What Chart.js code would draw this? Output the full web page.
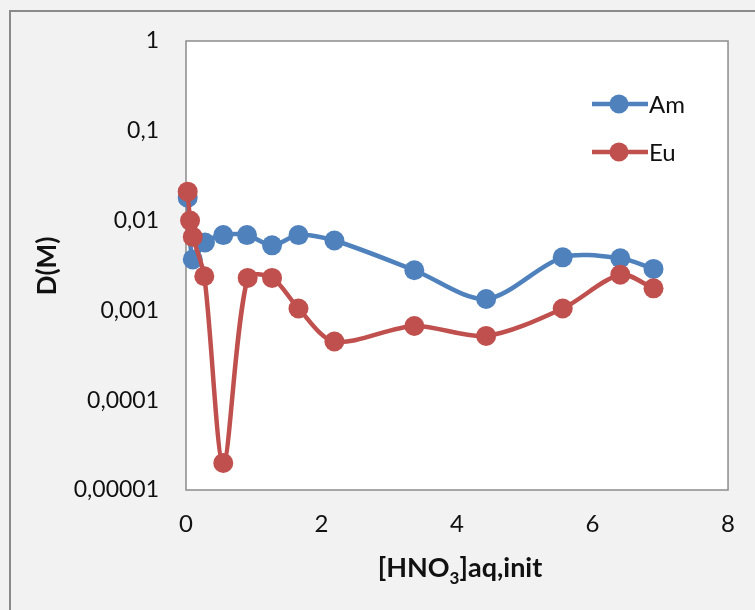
<!DOCTYPE html>
<html>
<head>
<meta charset="utf-8">
<script src="https://cdn.jsdelivr.net/npm/chart.js@4/dist/chart.umd.min.js"></script>
<style>
  html, body { margin: 0; padding: 0; background: #f2f2f2; }
  #wrap { width: 755px; height: 610px; }
</style>
</head>
<body>
<div id="wrap"><canvas id="chart" width="755" height="610"></canvas></div>
<script>
// --< Data >--
const seriesNames = ["Am", "Eu"];
const seriesColors = ["#4f81bd", "#c0504d"];

const amX = [0.025, 0.1, 0.28, 0.55, 0.9, 1.27, 1.66, 2.19, 3.37, 4.43, 5.56, 6.41, 6.9];
const amY = [0.018, 0.0037, 0.0057, 0.0069, 0.0069, 0.0053, 0.0069, 0.006, 0.0028, 0.00134, 0.0039, 0.0038, 0.0029];

const euX = [0.025, 0.06, 0.1, 0.27, 0.55, 0.91, 1.27, 1.66, 2.19, 3.37, 4.43, 5.56, 6.41, 6.9];
const euY = [0.021, 0.01, 0.0066, 0.0024, 0.00002, 0.0023, 0.0023, 0.00105, 0.00045, 0.00067, 0.00052, 0.00105, 0.0025, 0.00176];

const yTickValues = [0.00001, 0.0001, 0.001, 0.01, 0.1, 1];
const yTickLabels = ["0,00001", "0,0001", "0,001", "0,01", "0,1", "1"];
const xTickValues = [0, 2, 4, 6, 8];

const yTitle = "D(M)";
const xTitleParts = ["[HNO", "3", "]aq,init"];
// --</ Data >--

const FONT = "Lato, 'Open Sans', sans-serif";

function toPoints(xs, ys) {
  return xs.map((x, i) => ({ x: x, y: ys[i] }));
}

function makeDataset(i, xs, ys, order) {
  return {
    label: seriesNames[i],
    data: toPoints(xs, ys),
    borderColor: seriesColors[i],
    backgroundColor: seriesColors[i],
    pointBackgroundColor: seriesColors[i],
    pointBorderWidth: 0,
    pointRadius: 10,
    pointHoverRadius: 10,
    borderWidth: 4.5,
    tension: 0.3,
    clip: false,
    order: order
  };
}

// background, plot frame, titles and legend
const framePlugin = {
  id: "frame",
  beforeDraw(chart) {
    const { ctx, chartArea: a } = chart;
    ctx.save();
    ctx.fillStyle = "#f2f2f2";
    ctx.fillRect(0, 0, chart.width, chart.height);
    ctx.strokeStyle = "#8a8a8a";
    ctx.lineWidth = 2;
    ctx.strokeRect(10, 11, chart.width + 20, chart.height + 20);
    ctx.fillStyle = "#ffffff";
    ctx.fillRect(a.left, a.top, a.right - a.left, a.bottom - a.top);
    ctx.strokeStyle = "#8c8c8c";
    ctx.lineWidth = 1.5;
    ctx.strokeRect(a.left, a.top, a.right - a.left, a.bottom - a.top);
    ctx.restore();
  },
  afterDraw(chart) {
    const ctx = chart.ctx;
    ctx.save();
    ctx.fillStyle = "#111";

    // y title
    ctx.font = "bold 26px " + FONT;
    ctx.translate(48, 266);
    ctx.rotate(-Math.PI / 2);
    ctx.textAlign = "center";
    ctx.textBaseline = "middle";
    ctx.fillText(yTitle, 0, 0);
    ctx.setTransform(1, 0, 0, 1, 0, 0);

    // x title with subscript
    const big = "bold 27px " + FONT, small = "bold 17px " + FONT;
    ctx.textAlign = "left";
    ctx.textBaseline = "alphabetic";
    ctx.font = big;
    const w0 = ctx.measureText(xTitleParts[0]).width;
    const w2 = ctx.measureText(xTitleParts[2]).width;
    ctx.font = small;
    const w1 = ctx.measureText(xTitleParts[1]).width;
    let x = 460 - (w0 + w1 + w2) / 2;
    const base = 577;
    ctx.font = big;
    ctx.fillText(xTitleParts[0], x, base);
    x += w0;
    ctx.font = small;
    ctx.fillText(xTitleParts[1], x, base + 7);
    x += w1;
    ctx.font = big;
    ctx.fillText(xTitleParts[2], x, base);

    // legend
    const legendY = [104, 152];
    seriesNames.forEach((name, i) => {
      const y = legendY[i];
      ctx.strokeStyle = seriesColors[i];
      ctx.lineWidth = 4.5;
      ctx.beginPath();
      ctx.moveTo(592, y);
      ctx.lineTo(648, y);
      ctx.stroke();
      ctx.fillStyle = seriesColors[i];
      ctx.beginPath();
      ctx.arc(619, y, 9.5, 0, Math.PI * 2);
      ctx.fill();
      ctx.fillStyle = "#111";
      ctx.font = "24px " + FONT;
      ctx.textBaseline = "middle";
      ctx.fillText(name, 649, y + 1);
    });
    ctx.restore();
  }
};

new Chart(document.getElementById("chart"), {
  type: "line",
  data: {
    datasets: [
      makeDataset(0, amX, amY, 1),
      makeDataset(1, euX, euY, 0)
    ]
  },
  options: {
    responsive: false,
    animation: false,
    events: [],
    layout: { padding: { left: 0, top: 41, right: 23, bottom: 0 } },
    plugins: {
      legend: { display: false },
      tooltip: { enabled: false }
    },
    scales: {
      x: {
        type: "linear",
        min: 0,
        max: 8,
        afterFit: (s) => { s.height = 120; },
        afterBuildTicks: (s) => { s.ticks = xTickValues.map(v => ({ value: v })); },
        grid: { display: false, drawTicks: false },
        border: { display: false },
        ticks: {
          padding: 20,
          color: "#111",
          font: { family: FONT, size: 24 },
          maxRotation: 0
        }
      },
      y: {
        type: "logarithmic",
        min: 0.00001,
        max: 1,
        afterFit: (s) => { s.width = 186; },
        afterBuildTicks: (s) => { s.ticks = yTickValues.map(v => ({ value: v })); },
        grid: { display: false, drawTicks: false },
        border: { display: false },
        ticks: {
          padding: 27,
          color: "#111",
          font: { family: FONT, size: 23 },
          callback: (v, i) => yTickLabels[i]
        }
      }
    }
  },
  plugins: [framePlugin]
});
</script>
</body>
</html>
